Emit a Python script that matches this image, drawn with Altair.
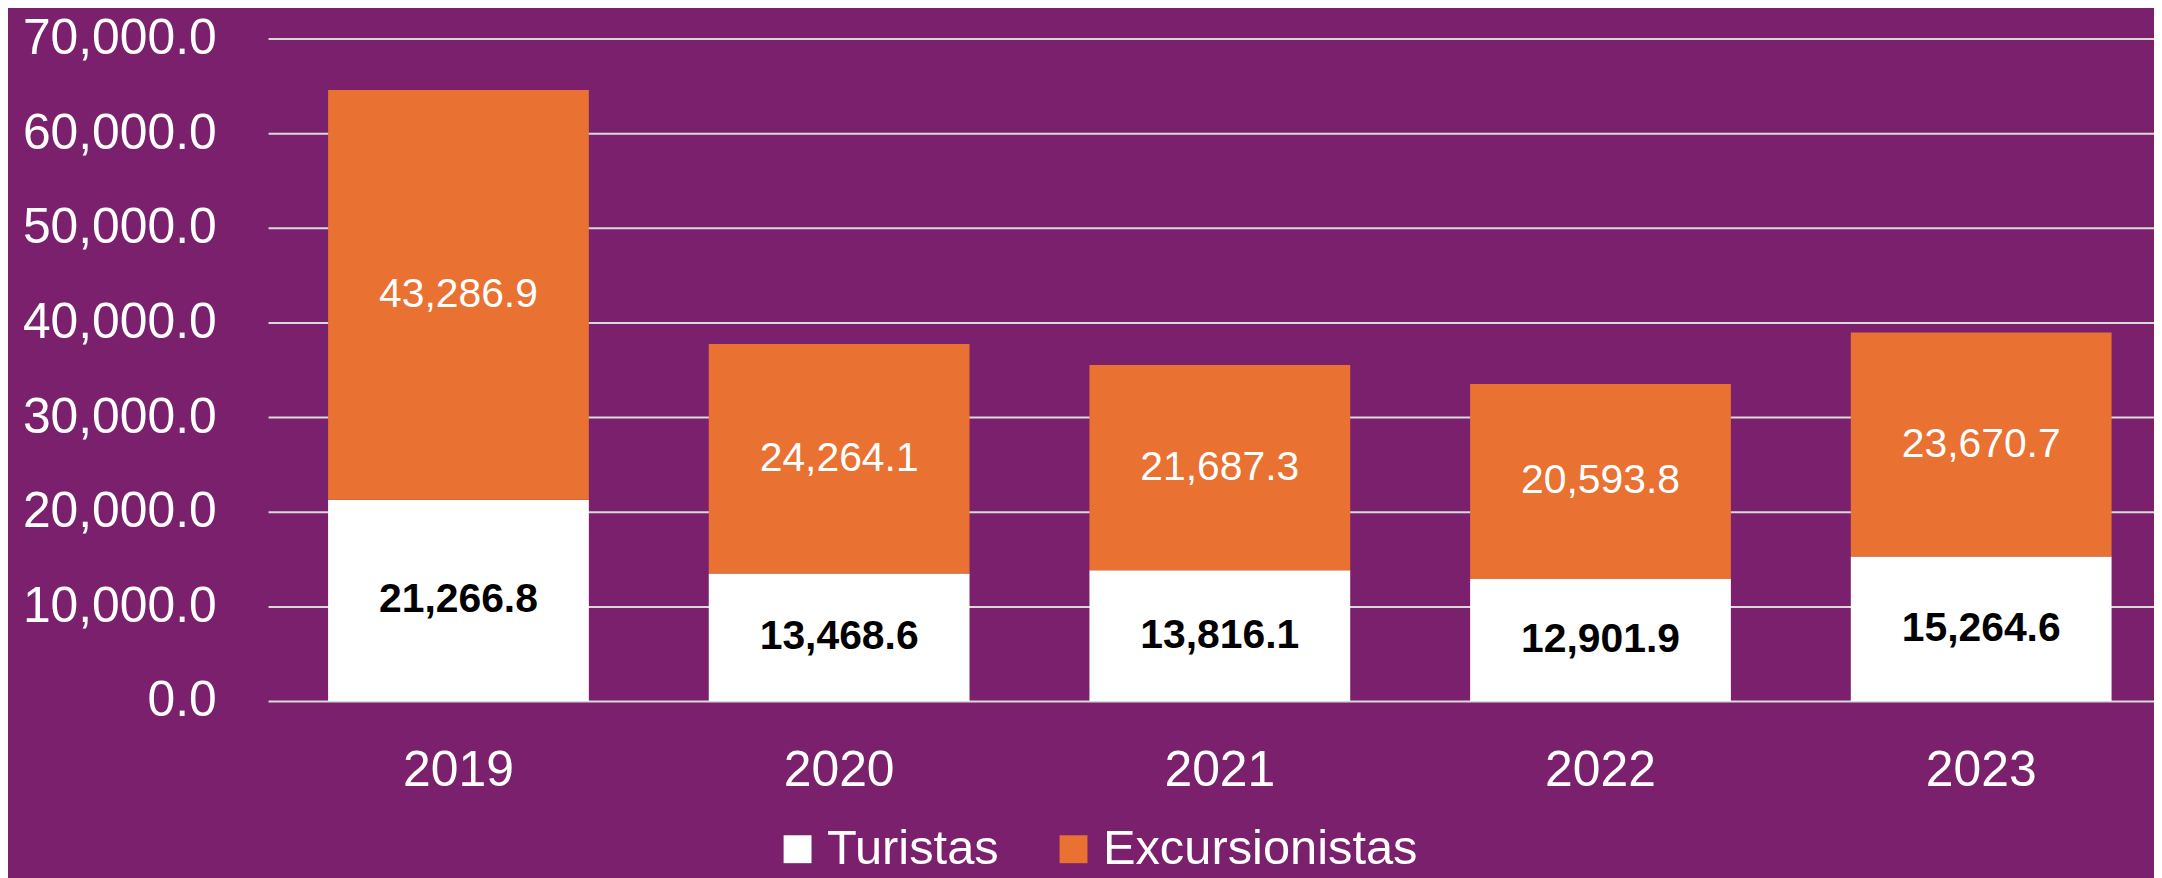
import altair as alt
import pandas as pd

anios = ["2019", "2020", "2021", "2022", "2023"]
turistas = [21266.8, 13468.6, 13816.1, 12901.9, 15264.6]
excursionistas = [43286.9, 24264.1, 21687.3, 20593.8, 23670.7]
series = ["Turistas", "Excursionistas"]
colores = ["#FFFFFF", "#E97132"]
colores_texto = ["#000000", "#FFFFFF"]
y_ticks = [0, 10000, 20000, 30000, 40000, 50000, 60000, 70000]

rows = []
for i, a in enumerate(anios):
    rows.append({"anio": a, "serie": series[0], "orden": 0, "valor": turistas[i]})
    rows.append({"anio": a, "serie": series[1], "orden": 1, "valor": excursionistas[i]})
df = pd.DataFrame(rows)

FONT = "Liberation Sans"
BG = "#7A206D"

x_enc = alt.X(
    "anio:N",
    title=None,
    sort=anios,
    scale=alt.Scale(paddingInner=0.315, paddingOuter=0.1346, align=0.586),
    axis=alt.Axis(labelAngle=0, labelFontSize=50, labelColor="white", labelFont=FONT,
                  ticks=False, domain=False, labelPadding=45, grid=False, labelLimit=0),
)

color_enc = alt.Color(
    "serie:N",
    sort=series,
    scale=alt.Scale(domain=series, range=colores),
    legend=alt.Legend(
        title=None, orient="none", direction="horizontal",
        legendX=507, legendY=789,
        symbolType="square", symbolSize=784, symbolStrokeWidth=0, symbolOpacity=1,
        labelFontSize=49, labelColor="white", labelFont=FONT, labelLimit=0,
        labelOffset=5, columnPadding=50, padding=0,
    ),
)

bars = alt.Chart(df).mark_bar(stroke=None, strokeWidth=0).encode(
    x=x_enc,
    y=alt.Y(
        "valor:Q", title=None, stack="zero",
        scale=alt.Scale(domain=[0, 70000], nice=False, zero=True),
        axis=alt.Axis(values=y_ticks, format=",.1f", labelFontSize=50, labelColor="white",
                      labelFont=FONT, ticks=False, domain=False, labelPadding=52, labelLimit=0,
                      grid=True, gridColor="#D9D9D9", gridWidth=2, gridOpacity=1),
    ),
    color=color_enc,
    order=alt.Order("orden:Q", sort="ascending"),
)

text_base = alt.Chart(df).transform_stack(
    stack="valor", groupby=["anio"], as_=["v0", "v1"], sort=[alt.SortField("orden", "ascending")]
).transform_calculate(
    mid="(datum.v0 + datum.v1) / 2",
    etiqueta="format(datum.valor, ',.1f')",
)

text_tur = text_base.transform_filter(alt.datum.serie == series[0]).mark_text(
    font=FONT, fontSize=41, fontWeight="bold", color=colores_texto[0], baseline="middle", align="center"
).encode(
    x=alt.X("anio:N", sort=anios),
    y=alt.Y("mid:Q"),
    text="etiqueta:N",
)

text_exc = text_base.transform_filter(alt.datum.serie == series[1]).mark_text(
    font=FONT, fontSize=41, fontWeight="normal", color=colores_texto[1], baseline="middle", align="center"
).encode(
    x=alt.X("anio:N", sort=anios),
    y=alt.Y("mid:Q"),
    text="etiqueta:N",
)

chart = alt.layer(bars, text_tur, text_exc).properties(
    width=1893,
    height=665,
    background=BG,
    padding={"left": 261, "top": 29, "right": 0, "bottom": 176},
    autosize=alt.AutoSizeParams(type="none"),
).configure_view(stroke=None, fill=BG)

chart.save("out.html", embed_options={"renderer": "svg", "actions": False})
